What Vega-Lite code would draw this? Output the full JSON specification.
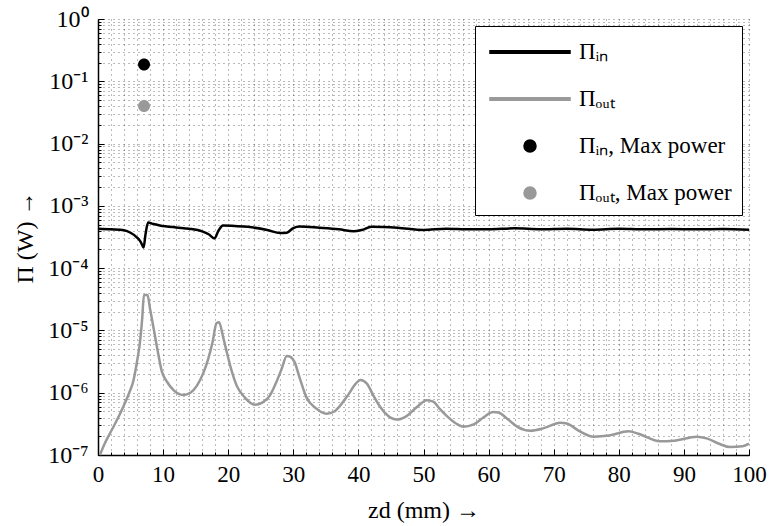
{
  "$schema": "https://vega.github.io/schema/vega-lite/v6.json",
  "width": 651,
  "height": 436,
  "autosize": "none",
  "padding": {"left": 98, "top": 19, "right": 21, "bottom": 71},
  "background": "white",
  "config": {
    "view": {"stroke": null},
    "font": "Liberation Serif",
    "axis": {
      "labelFont": "Liberation Serif",
      "titleFont": "Liberation Serif",
      "labelFontSize": 23,
      "titleFontSize": 24,
      "titleFontWeight": "normal",
      "labelColor": "black",
      "titleColor": "black",
      "domainColor": "black",
      "domainWidth": 1.5,
      "tickColor": "black",
      "tickWidth": 1,
      "gridColor": "#000000",
      "gridWidth": 0.9,
      "gridDash": [1, 4],
      "gridOpacity": 0.6
    }
  },
  "data": {"values": [
    {"z": 0, "P": 4.3e-4, "series": "Πᵢₙ"},
    {"z": 2, "P": 4.2e-4, "series": "Πᵢₙ"},
    {"z": 4, "P": 4.05e-4, "series": "Πᵢₙ"},
    {"z": 5, "P": 3.7e-4, "series": "Πᵢₙ"},
    {"z": 6, "P": 3.1e-4, "series": "Πᵢₙ"},
    {"z": 6.6, "P": 2.6e-4, "series": "Πᵢₙ"},
    {"z": 7.0, "P": 2.15e-4, "series": "Πᵢₙ"},
    {"z": 7.3, "P": 3.5e-4, "series": "Πᵢₙ"},
    {"z": 7.7, "P": 5.4e-4, "series": "Πᵢₙ"},
    {"z": 8.5, "P": 5.1e-4, "series": "Πᵢₙ"},
    {"z": 9.5, "P": 4.85e-4, "series": "Πᵢₙ"},
    {"z": 12, "P": 4.5e-4, "series": "Πᵢₙ"},
    {"z": 14, "P": 4.3e-4, "series": "Πᵢₙ"},
    {"z": 16, "P": 3.9e-4, "series": "Πᵢₙ"},
    {"z": 17, "P": 3.5e-4, "series": "Πᵢₙ"},
    {"z": 17.9, "P": 3.0e-4, "series": "Πᵢₙ"},
    {"z": 18.5, "P": 4.0e-4, "series": "Πᵢₙ"},
    {"z": 19.2, "P": 4.85e-4, "series": "Πᵢₙ"},
    {"z": 21, "P": 4.75e-4, "series": "Πᵢₙ"},
    {"z": 23, "P": 4.6e-4, "series": "Πᵢₙ"},
    {"z": 26, "P": 4.1e-4, "series": "Πᵢₙ"},
    {"z": 28, "P": 3.65e-4, "series": "Πᵢₙ"},
    {"z": 29, "P": 3.7e-4, "series": "Πᵢₙ"},
    {"z": 30, "P": 4.4e-4, "series": "Πᵢₙ"},
    {"z": 31, "P": 4.65e-4, "series": "Πᵢₙ"},
    {"z": 34, "P": 4.45e-4, "series": "Πᵢₙ"},
    {"z": 37, "P": 4.2e-4, "series": "Πᵢₙ"},
    {"z": 39.3, "P": 3.9e-4, "series": "Πᵢₙ"},
    {"z": 40.5, "P": 4.1e-4, "series": "Πᵢₙ"},
    {"z": 42, "P": 4.6e-4, "series": "Πᵢₙ"},
    {"z": 46, "P": 4.45e-4, "series": "Πᵢₙ"},
    {"z": 50, "P": 4.1e-4, "series": "Πᵢₙ"},
    {"z": 53.5, "P": 4.3e-4, "series": "Πᵢₙ"},
    {"z": 57, "P": 4.2e-4, "series": "Πᵢₙ"},
    {"z": 60, "P": 4.2e-4, "series": "Πᵢₙ"},
    {"z": 64, "P": 4.35e-4, "series": "Πᵢₙ"},
    {"z": 68, "P": 4.2e-4, "series": "Πᵢₙ"},
    {"z": 72, "P": 4.3e-4, "series": "Πᵢₙ"},
    {"z": 76, "P": 4.15e-4, "series": "Πᵢₙ"},
    {"z": 80, "P": 4.3e-4, "series": "Πᵢₙ"},
    {"z": 84, "P": 4.2e-4, "series": "Πᵢₙ"},
    {"z": 88, "P": 4.25e-4, "series": "Πᵢₙ"},
    {"z": 92, "P": 4.2e-4, "series": "Πᵢₙ"},
    {"z": 96, "P": 4.25e-4, "series": "Πᵢₙ"},
    {"z": 100, "P": 4.15e-4, "series": "Πᵢₙ"},

    {"z": 0.3, "P": 1.0e-7, "series": "Πₒᵤₜ"},
    {"z": 1, "P": 1.5e-7, "series": "Πₒᵤₜ"},
    {"z": 1.6, "P": 2.0e-7, "series": "Πₒᵤₜ"},
    {"z": 2.5, "P": 3.0e-7, "series": "Πₒᵤₜ"},
    {"z": 3.9, "P": 6.0e-7, "series": "Πₒᵤₜ"},
    {"z": 4.8, "P": 1.0e-6, "series": "Πₒᵤₜ"},
    {"z": 5.4, "P": 1.5e-6, "series": "Πₒᵤₜ"},
    {"z": 6.0, "P": 3.2e-6, "series": "Πₒᵤₜ"},
    {"z": 6.45, "P": 6.5e-6, "series": "Πₒᵤₜ"},
    {"z": 6.8, "P": 1.6e-5, "series": "Πₒᵤₜ"},
    {"z": 7.05, "P": 3.7e-5, "series": "Πₒᵤₜ"},
    {"z": 7.6, "P": 3.7e-5, "series": "Πₒᵤₜ"},
    {"z": 8.0, "P": 2.2e-5, "series": "Πₒᵤₜ"},
    {"z": 8.5, "P": 1.15e-5, "series": "Πₒᵤₜ"},
    {"z": 9.2, "P": 4.5e-6, "series": "Πₒᵤₜ"},
    {"z": 9.8, "P": 2.2e-6, "series": "Πₒᵤₜ"},
    {"z": 10.6, "P": 1.5e-6, "series": "Πₒᵤₜ"},
    {"z": 11.6, "P": 1.1e-6, "series": "Πₒᵤₜ"},
    {"z": 13.1, "P": 9.2e-7, "series": "Πₒᵤₜ"},
    {"z": 14.2, "P": 1.0e-6, "series": "Πₒᵤₜ"},
    {"z": 15.2, "P": 1.3e-6, "series": "Πₒᵤₜ"},
    {"z": 16.2, "P": 2.1e-6, "series": "Πₒᵤₜ"},
    {"z": 16.9, "P": 3.4e-6, "series": "Πₒᵤₜ"},
    {"z": 17.6, "P": 6.5e-6, "series": "Πₒᵤₜ"},
    {"z": 18.2, "P": 1.3e-5, "series": "Πₒᵤₜ"},
    {"z": 18.6, "P": 1.35e-5, "series": "Πₒᵤₜ"},
    {"z": 19.2, "P": 8.0e-6, "series": "Πₒᵤₜ"},
    {"z": 19.8, "P": 4.4e-6, "series": "Πₒᵤₜ"},
    {"z": 20.5, "P": 2.3e-6, "series": "Πₒᵤₜ"},
    {"z": 21.3, "P": 1.3e-6, "series": "Πₒᵤₜ"},
    {"z": 22.5, "P": 8.5e-7, "series": "Πₒᵤₜ"},
    {"z": 24.1, "P": 6.4e-7, "series": "Πₒᵤₜ"},
    {"z": 25.3, "P": 7.0e-7, "series": "Πₒᵤₜ"},
    {"z": 26.4, "P": 9.0e-7, "series": "Πₒᵤₜ"},
    {"z": 27.3, "P": 1.4e-6, "series": "Πₒᵤₜ"},
    {"z": 28.2, "P": 2.4e-6, "series": "Πₒᵤₜ"},
    {"z": 29.0, "P": 3.9e-6, "series": "Πₒᵤₜ"},
    {"z": 29.5, "P": 3.8e-6, "series": "Πₒᵤₜ"},
    {"z": 30.2, "P": 3.1e-6, "series": "Πₒᵤₜ"},
    {"z": 31.0, "P": 1.7e-6, "series": "Πₒᵤₜ"},
    {"z": 32.0, "P": 8.5e-7, "series": "Πₒᵤₜ"},
    {"z": 33.5, "P": 5.6e-7, "series": "Πₒᵤₜ"},
    {"z": 35.1, "P": 4.6e-7, "series": "Πₒᵤₜ"},
    {"z": 36.3, "P": 5.0e-7, "series": "Πₒᵤₜ"},
    {"z": 37.2, "P": 6.2e-7, "series": "Πₒᵤₜ"},
    {"z": 38.5, "P": 9.5e-7, "series": "Πₒᵤₜ"},
    {"z": 39.6, "P": 1.4e-6, "series": "Πₒᵤₜ"},
    {"z": 40.3, "P": 1.6e-6, "series": "Πₒᵤₜ"},
    {"z": 41.3, "P": 1.4e-6, "series": "Πₒᵤₜ"},
    {"z": 42.3, "P": 9.0e-7, "series": "Πₒᵤₜ"},
    {"z": 43.3, "P": 6.0e-7, "series": "Πₒᵤₜ"},
    {"z": 44.5, "P": 4.3e-7, "series": "Πₒᵤₜ"},
    {"z": 45.9, "P": 3.7e-7, "series": "Πₒᵤₜ"},
    {"z": 47.4, "P": 4.2e-7, "series": "Πₒᵤₜ"},
    {"z": 49, "P": 5.9e-7, "series": "Πₒᵤₜ"},
    {"z": 50.5, "P": 7.6e-7, "series": "Πₒᵤₜ"},
    {"z": 51.5, "P": 7.2e-7, "series": "Πₒᵤₜ"},
    {"z": 52.5, "P": 5.5e-7, "series": "Πₒᵤₜ"},
    {"z": 53.6, "P": 4.2e-7, "series": "Πₒᵤₜ"},
    {"z": 55, "P": 3.2e-7, "series": "Πₒᵤₜ"},
    {"z": 56.1, "P": 2.85e-7, "series": "Πₒᵤₜ"},
    {"z": 57.7, "P": 3.1e-7, "series": "Πₒᵤₜ"},
    {"z": 59.2, "P": 4.0e-7, "series": "Πₒᵤₜ"},
    {"z": 60.7, "P": 4.9e-7, "series": "Πₒᵤₜ"},
    {"z": 61.5, "P": 4.8e-7, "series": "Πₒᵤₜ"},
    {"z": 63, "P": 3.7e-7, "series": "Πₒᵤₜ"},
    {"z": 64.5, "P": 2.8e-7, "series": "Πₒᵤₜ"},
    {"z": 66.4, "P": 2.45e-7, "series": "Πₒᵤₜ"},
    {"z": 68.5, "P": 2.7e-7, "series": "Πₒᵤₜ"},
    {"z": 71.0, "P": 3.3e-7, "series": "Πₒᵤₜ"},
    {"z": 72, "P": 3.2e-7, "series": "Πₒᵤₜ"},
    {"z": 74, "P": 2.4e-7, "series": "Πₒᵤₜ"},
    {"z": 76.1, "P": 1.97e-7, "series": "Πₒᵤₜ"},
    {"z": 78.5, "P": 2.05e-7, "series": "Πₒᵤₜ"},
    {"z": 81.5, "P": 2.4e-7, "series": "Πₒᵤₜ"},
    {"z": 83, "P": 2.2e-7, "series": "Πₒᵤₜ"},
    {"z": 86.3, "P": 1.66e-7, "series": "Πₒᵤₜ"},
    {"z": 88.5, "P": 1.7e-7, "series": "Πₒᵤₜ"},
    {"z": 92.0, "P": 1.97e-7, "series": "Πₒᵤₜ"},
    {"z": 93.5, "P": 1.85e-7, "series": "Πₒᵤₜ"},
    {"z": 95.5, "P": 1.5e-7, "series": "Πₒᵤₜ"},
    {"z": 97.1, "P": 1.34e-7, "series": "Πₒᵤₜ"},
    {"z": 99, "P": 1.38e-7, "series": "Πₒᵤₜ"},
    {"z": 100, "P": 1.52e-7, "series": "Πₒᵤₜ"},

    {"z": 7.07, "P": 0.186, "series": "Πᵢₙ, Max power"},
    {"z": 7.07, "P": 0.040, "series": "Πₒᵤₜ, Max power"}
  ]},
  "layer": [
    {
      "transform": [{"filter": "indexof(datum.series, 'Max') < 0"}],
      "mark": {"type": "line", "strokeWidth": 2.5, "interpolate": "monotone"},
      "encoding": {
        "x": {
          "field": "z", "type": "quantitative",
          "scale": {"domain": [0, 100], "nice": false, "zero": false},
          "axis": {
            "orient": "bottom",
            "title": null,
            "values": [0,2,4,6,8,10,12,14,16,18,20,22,24,26,28,30,32,34,36,38,40,42,44,46,48,50,52,54,56,58,60,62,64,66,68,70,72,74,76,78,80,82,84,86,88,90,92,94,96,98,100],
            "labels": false,
            "tickSize": -3,
            "grid": true,
            "zindex": 0
          }
        },
        "y": {
          "field": "P", "type": "quantitative",
          "scale": {"type": "log", "domain": [1e-7, 1], "nice": false},
          "axis": {
            "orient": "left",
            "title": null,
            "values": [1e-7,2e-7,3e-7,4e-7,5e-7,6e-7,7e-7,8e-7,9e-7,1e-6,2e-6,3e-6,4e-6,5e-6,6e-6,7e-6,8e-6,9e-6,1e-5,2e-5,3e-5,4e-5,5e-5,6e-5,7e-5,8e-5,9e-5,1e-4,2e-4,3e-4,4e-4,5e-4,6e-4,7e-4,8e-4,9e-4,1e-3,2e-3,3e-3,4e-3,5e-3,6e-3,7e-3,8e-3,9e-3,1e-2,2e-2,3e-2,4e-2,5e-2,6e-2,7e-2,8e-2,9e-2,0.1,0.2,0.3,0.4,0.5,0.6,0.7,0.8,0.9,1],
            "labels": false,
            "tickSize": -3,
            "grid": true,
            "zindex": 0
          }
        },
        "color": {
          "field": "series", "type": "nominal",
          "scale": {
            "domain": ["Πᵢₙ", "Πₒᵤₜ", "Πᵢₙ, Max power", "Πₒᵤₜ, Max power"],
            "range": ["#000000", "#999999", "#000000", "#999999"]
          }
        }
      }
    },
    {
      "transform": [{"filter": "indexof(datum.series, 'Max') >= 0"}],
      "mark": {"type": "point", "filled": true, "opacity": 1, "size": 900},
      "encoding": {
        "x": {
          "field": "z", "type": "quantitative",
          "axis": {
            "orient": "bottom",
            "title": "zd (mm) →",
            "values": [0,10,20,30,40,50,60,70,80,90,100],
            "tickSize": -6,
            "labelPadding": 14,
            "labelFlush": false,
            "labelOverlap": false,
            "titlePadding": 12,
            "grid": false,
            "domain": false
          }
        },
        "y": {
          "field": "P", "type": "quantitative",
          "axis": {
            "orient": "left",
            "title": "Π (W) →",
            "values": [1e-7,1e-6,1e-5,1e-4,1e-3,1e-2,0.1,1],
            "labelExpr": "'10' + ['⁰','⁻¹','⁻²','⁻³','⁻⁴','⁻⁵','⁻⁶','⁻⁷'][abs(round(log(datum.value)/LN10))]",
            "labelFontSize": 24,
            "tickSize": -6,
            "labelPadding": 16,
            "labelOverlap": false,
            "labelFlush": false,
            "titlePadding": 10,
            "grid": false,
            "domain": false
          }
        },
        "color": {
          "field": "series", "type": "nominal",
          "legend": {
            "title": null,
            "orient": "top-right",
            "offset": 7,
            "strokeColor": "black",
            "fillColor": "white",
            "padding": 10,
            "labelFont": "Liberation Serif",
            "labelFontSize": 23,
            "labelColor": "black",
            "labelOffset": 33,
            "symbolOffset": 29,
            "rowPadding": 19,
            "symbolSize": 900,
            "symbolType": "circle"
          }
        },
        "shape": {
          "field": "series", "type": "nominal",
          "scale": {
            "domain": ["Πᵢₙ", "Πₒᵤₜ", "Πᵢₙ, Max power", "Πₒᵤₜ, Max power"],
            "range": [
              "M -2.667 -0.09 L 2.667 -0.09 L 2.667 0.09 L -2.667 0.09 Z",
              "M -2.667 -0.09 L 2.667 -0.09 L 2.667 0.09 L -2.667 0.09 Z",
              "M -0.4 0 A 0.4 0.4 0 1 1 0.4 0 A 0.4 0.4 0 1 1 -0.4 0 Z",
              "M -0.4 0 A 0.4 0.4 0 1 1 0.4 0 A 0.4 0.4 0 1 1 -0.4 0 Z"
            ]
          }
        }
      }
    }
  ],
  "resolve": {"axis": {"x": "independent", "y": "independent"}}
}
